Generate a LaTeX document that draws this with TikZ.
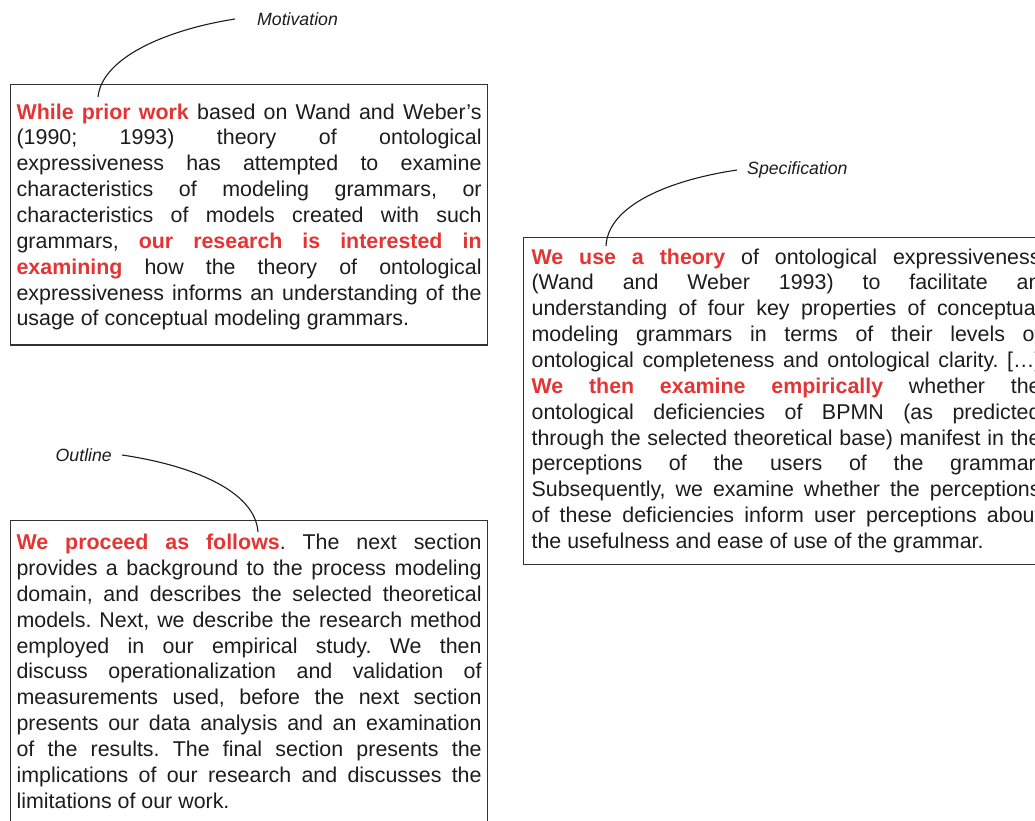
\documentclass[tikz,border=0pt]{standalone}
\usepackage{fontspec}
\setmainfont{Liberation Sans}
\definecolor{hlred}{RGB}{228,52,52}
\definecolor{ink}{RGB}{28,28,28}
\definecolor{framec}{RGB}{50,50,50}
\newcommand\redbf[1]{\textcolor{hlred}{\bfseries #1}}
\tolerance=10000 \hyphenpenalty=10000 \hbadness=10000 \exhyphenpenalty=10000
\begin{document}
\begin{tikzpicture}[x=1pt,y=-1pt,
  textbox/.style={draw=framec, line width=1.2pt, anchor=north west, inner xsep=6pt, inner ysep=0pt,
    align=justify, font=\fontsize{21.4}{25.85}\selectfont\frenchspacing, text=ink},
  tag/.style={font=\fontsize{17.7}{20}\selectfont\itshape, inner ysep=0pt, text=ink},
  leader/.style={draw=ink, line width=1.1pt}]
\useasboundingbox (0,0) rectangle (1035,821);
\clip (0,0) rectangle (1035,821);

% boxes
\node[textbox, text width=465pt] (b1) at (10,84) {\noindent\rule{0pt}{34.5pt}\redbf{While prior work} based on Wand and Weber's\linebreak
(1990;\ 1993) theory of ontological\linebreak
expressiveness has attempted to examine\linebreak
characteristics of modeling grammars, or\linebreak
characteristics of models created with such\linebreak
grammars, \redbf{our research is interested in}\linebreak
\redbf{examining} how the theory of ontological\linebreak
expressiveness informs an understanding of the\linebreak
usage of conceptual modeling grammars.\rule[-19pt]{0pt}{19pt}};

\node[textbox, text width=509pt, inner xsep=8pt] (b2) at (523,237) {\noindent\rule{0pt}{26.5pt}\redbf{We use a theory} of ontological expressiveness\linebreak
(Wand and Weber 1993) to facilitate an\linebreak
understanding of four key properties of conceptual\linebreak
modeling grammars in terms of their levels of\linebreak
ontological completeness and ontological clarity. […]\linebreak
\redbf{We then examine empirically} whether the\linebreak
ontological deficiencies of BPMN (as predicted\linebreak
through the selected theoretical base) manifest in the\linebreak
perceptions of the users of the grammar.\linebreak
Subsequently, we examine whether the perceptions\linebreak
of these deficiencies inform user perceptions about\linebreak
the usefulness and ease of use of the grammar.\rule[-16pt]{0pt}{16pt}};

\node[textbox, text width=465pt] (b3) at (10,520) {\noindent\rule{0pt}{29pt}\redbf{We proceed as follows}. The next section\linebreak
provides a background to the process modeling\linebreak
domain, and describes the selected theoretical\linebreak
models. Next, we describe the research method\linebreak
employed in our empirical study. We then\linebreak
discuss operationalization and validation of\linebreak
measurements used, before the next section\linebreak
presents our data analysis and an examination\linebreak
of the results. The final section presents the\linebreak
implications of our research and discusses the\linebreak
limitations of our work.\rule[-25pt]{0pt}{25pt}};

% labels
\node[tag, anchor=west, inner xsep=22pt] (mot) at (235,19) {Motivation};
\node[tag, anchor=west, inner xsep=10pt] (spec) at (737,170) {Specification};
\node[tag, anchor=east, inner xsep=10pt] (out) at (122,455) {Outline};

\coordinate (motend) at (98,97);
\coordinate (specend) at (606,246);
\coordinate (outend) at (258,532);

\draw[leader] (mot.west) .. controls (165,30) and (102,58) .. (motend);
\draw[leader] (spec.west) .. controls (670,180) and (608,205) .. (specend);
\draw[leader] (out.east) .. controls (190,465) and (255,490) .. (outend);
\end{tikzpicture}
\end{document}
